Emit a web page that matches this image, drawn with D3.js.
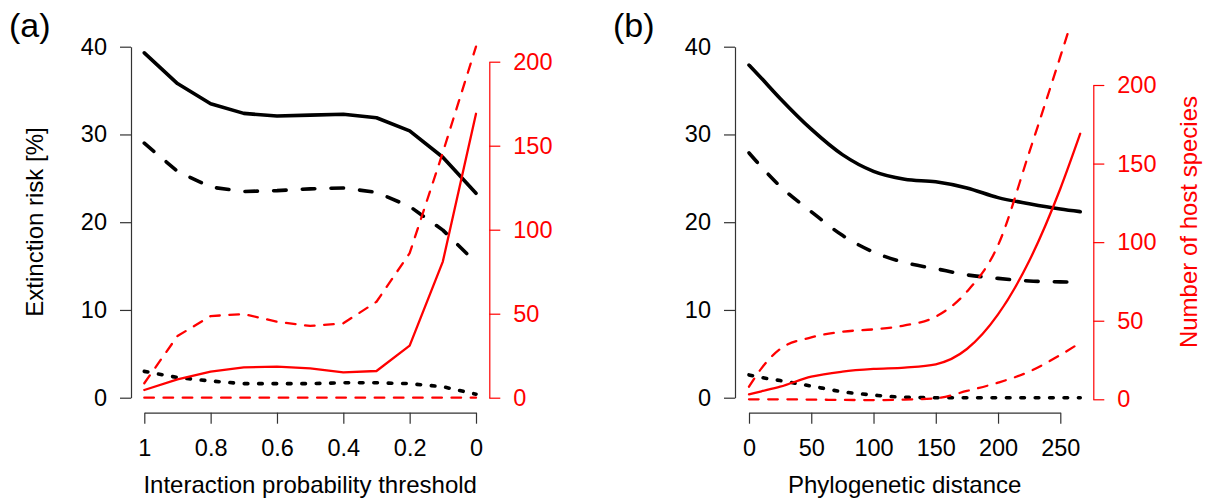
<!DOCTYPE html>
<html>
<head>
<meta charset="utf-8">
<script src="https://cdn.jsdelivr.net/npm/d3@7"></script>
<style>
  body { margin: 0; background: #fff; }
  text { font-family: Arial, "Liberation Sans", sans-serif; }
</style>
</head>
<body>
<script>
var width = 1210, height = 499

// panel (a): interaction probability threshold
var thresholds = [1, 0.9, 0.8, 0.7, 0.6, 0.5, 0.4, 0.3, 0.2, 0.1, 0]
var riskA_mean = [39.3, 35.8, 33.5, 32.4, 32.1, 32.2, 32.3, 31.9, 30.4, 27.4, 23.3]
var riskA_dash = [29.0, 25.8, 24.0, 23.5, 23.6, 23.8, 23.9, 23.4, 21.8, 19.1, 15.4]
var riskA_dot = [3.0, 2.3, 1.9, 1.6, 1.6, 1.6, 1.7, 1.7, 1.6, 1.25, 0.4]
var hostsA_mean = [4.6, 10.9, 15.5, 18.1, 18.5, 17.5, 15.1, 15.9, 31, 81, 169]
var hostsA_upper = [8.6, 36.7, 48.6, 49.8, 45.2, 42.7, 44.3, 57.1, 86, 146, 209]
var hostsA_lower = [0, 0, 0, 0, 0, 0, 0, 0, 0, 0, 0]
var xTicksA = [1, 0.8, 0.6, 0.4, 0.2, 0]

// panel (b): phylogenetic distance
var distance = [0, 10, 25, 50, 75, 100, 125, 150, 175, 200, 225, 250, 266]
var riskB_mean = [37.9, 36.4, 34.1, 30.6, 27.7, 25.8, 24.9, 24.6, 23.9, 22.8, 22.1, 21.5, 21.2]
var riskB_dash = [27.9, 26.3, 24.1, 21.2, 18.5, 16.6, 15.4, 14.7, 14.0, 13.6, 13.3, 13.2, 13.15]
var riskB_dot = [2.6, 2.3, 1.95, 1.33, 0.68, 0.3, 0.05, 0, 0, 0, 0, 0, 0]
var hostsB_mean = [3.2, 5.1, 8.0, 14.4, 17.6, 19.3, 20.2, 22.3, 32, 54, 88, 134, 169]
var hostsB_upper = [8.0, 19.7, 32, 39.4, 43, 44.5, 47, 52.6, 68.5, 98, 157, 218, 258]
var hostsB_lower = [0, 0, 0, -0.2, -0.4, -0.5, -0.2, 0.6, 5.3, 10.6, 17.6, 28.2, 36]
var xTicksB = [0, 50, 100, 150, 200, 250]

var riskTicks = [0, 10, 20, 30, 40]
var hostTicks = [0, 50, 100, 150, 200]

var svg = d3.select("body").append("svg")
    .attr("width", width).attr("height", height)

function drawPanel(p) {
    var g = svg.append("g")
    var x = d3.scaleLinear().domain(p.xDomain).range(p.xRange)
    var yL = d3.scaleLinear().domain([0, 40]).range([397.7, 46.7])
    var yR = d3.scaleLinear().domain([0, 200]).range(p.yRRange)

    // plot region clip (R does not draw outside it)
    g.append("clipPath").attr("id", "clip-" + p.id)
        .append("rect")
        .attr("x", p.box[0]).attr("y", 32.7)
        .attr("width", p.box[1] - p.box[0]).attr("height", 411.7 - 32.7)

    var xAxis = d3.axisBottom(x).tickValues(p.xTicks).tickFormat(String)
        .tickSizeInner(11).tickSizeOuter(0).tickPadding(16)
    var yAxis = d3.axisLeft(yL).tickValues(riskTicks).tickFormat(String)
        .tickSizeInner(11).tickSizeOuter(0).tickPadding(13)
    var yAxisR = d3.axisRight(yR).tickValues(hostTicks).tickFormat(String)
        .tickSizeInner(11).tickSizeOuter(0).tickPadding(13)

    var gx = g.append("g").attr("transform", "translate(0,412.7)").call(xAxis)
    var gy = g.append("g").attr("transform", "translate(" + p.box[0] + ",0)").call(yAxis)
    var gr = g.append("g").attr("transform", "translate(" + p.box[1] + ",0)").call(yAxisR)

    gx.selectAll("path, line").attr("stroke", "#333").attr("stroke-width", 1.2)
    gy.selectAll("path, line").attr("stroke", "#333").attr("stroke-width", 1.2)
    gr.selectAll("path, line").attr("stroke", "red").attr("stroke-width", 1.2)
    g.selectAll(".tick text").attr("font-size", 23.5).attr("font-family", "Arial, 'Liberation Sans', sans-serif")
    gx.selectAll(".tick text").attr("fill", "#000")
    gy.selectAll(".tick text").attr("fill", "#000")
    gr.selectAll(".tick text").attr("fill", "red")

    var series = [
        {v: p.risk[0], y: yL, color: "#000", w: 3.6, dash: null},
        {v: p.risk[1], y: yL, color: "#000", w: 3.6, dash: "12.5,16.2"},
        {v: p.risk[2], y: yL, color: "#000", w: 3.6, dash: "3.6,10.8"},
        {v: p.hosts[0], y: yR, color: "red", w: 2.3, dash: null},
        {v: p.hosts[1], y: yR, color: "red", w: 2.3, dash: "9.6,9.6"},
        {v: p.hosts[2], y: yR, color: "red", w: 2.3, dash: "9.6,9.6"}
    ]
    var lines = g.append("g").attr("clip-path", "url(#clip-" + p.id + ")")
    series.forEach(function(s) {
        var line = d3.line()
            .x(function(d, i) { return x(p.xs[i]) })
            .y(function(d) { return s.y(d) })
            .curve(p.curve)
        lines.append("path")
            .attr("d", line(s.v))
            .attr("fill", "none")
            .attr("stroke", s.color)
            .attr("stroke-width", s.w)
            .attr("stroke-linecap", "round")
            .attr("stroke-linejoin", "round")
            .attr("stroke-dasharray", s.dash)
    })

    // titles
    g.append("text").attr("x", (p.xRange[0] + p.xRange[1]) / 2).attr("y", 492.5)
        .attr("text-anchor", "middle").attr("font-size", 24).text(p.xTitle)
    g.append("text").attr("x", p.labelX).attr("y", 37)
        .attr("font-size", 34).text(p.label)
    if (p.leftTitle) {
        g.append("text").attr("transform", "translate(43,222) rotate(-90)")
            .attr("text-anchor", "middle").attr("font-size", 24).text(p.leftTitle)
    }
    if (p.rightTitle) {
        g.append("text").attr("transform", "translate(1197,222) rotate(-90)")
            .attr("text-anchor", "middle").attr("font-size", 24).attr("fill", "red").text(p.rightTitle)
    }
}

drawPanel({
    id: "a", label: "(a)", labelX: 9,
    xs: thresholds, xDomain: [1, 0], xRange: [144.3, 476], xTicks: xTicksA,
    box: [131, 489.3], yRRange: [397.7, 61.7],
    risk: [riskA_mean, riskA_dash, riskA_dot],
    hosts: [hostsA_mean, hostsA_upper, hostsA_lower],
    curve: d3.curveLinear,
    xTitle: "Interaction probability threshold",
    leftTitle: "Extinction risk [%]"
})

drawPanel({
    id: "b", label: "(b)", labelX: 613,
    xs: distance, xDomain: [0, 250], xRange: [749, 1060.3], xTicks: xTicksB,
    box: [735, 1093.3], yRRange: [399.3, 85],
    risk: [riskB_mean, riskB_dash, riskB_dot],
    hosts: [hostsB_mean, hostsB_upper, hostsB_lower],
    curve: d3.curveMonotoneX,
    xTitle: "Phylogenetic distance",
    rightTitle: "Number of host species"
})
</script>
</body>
</html>
